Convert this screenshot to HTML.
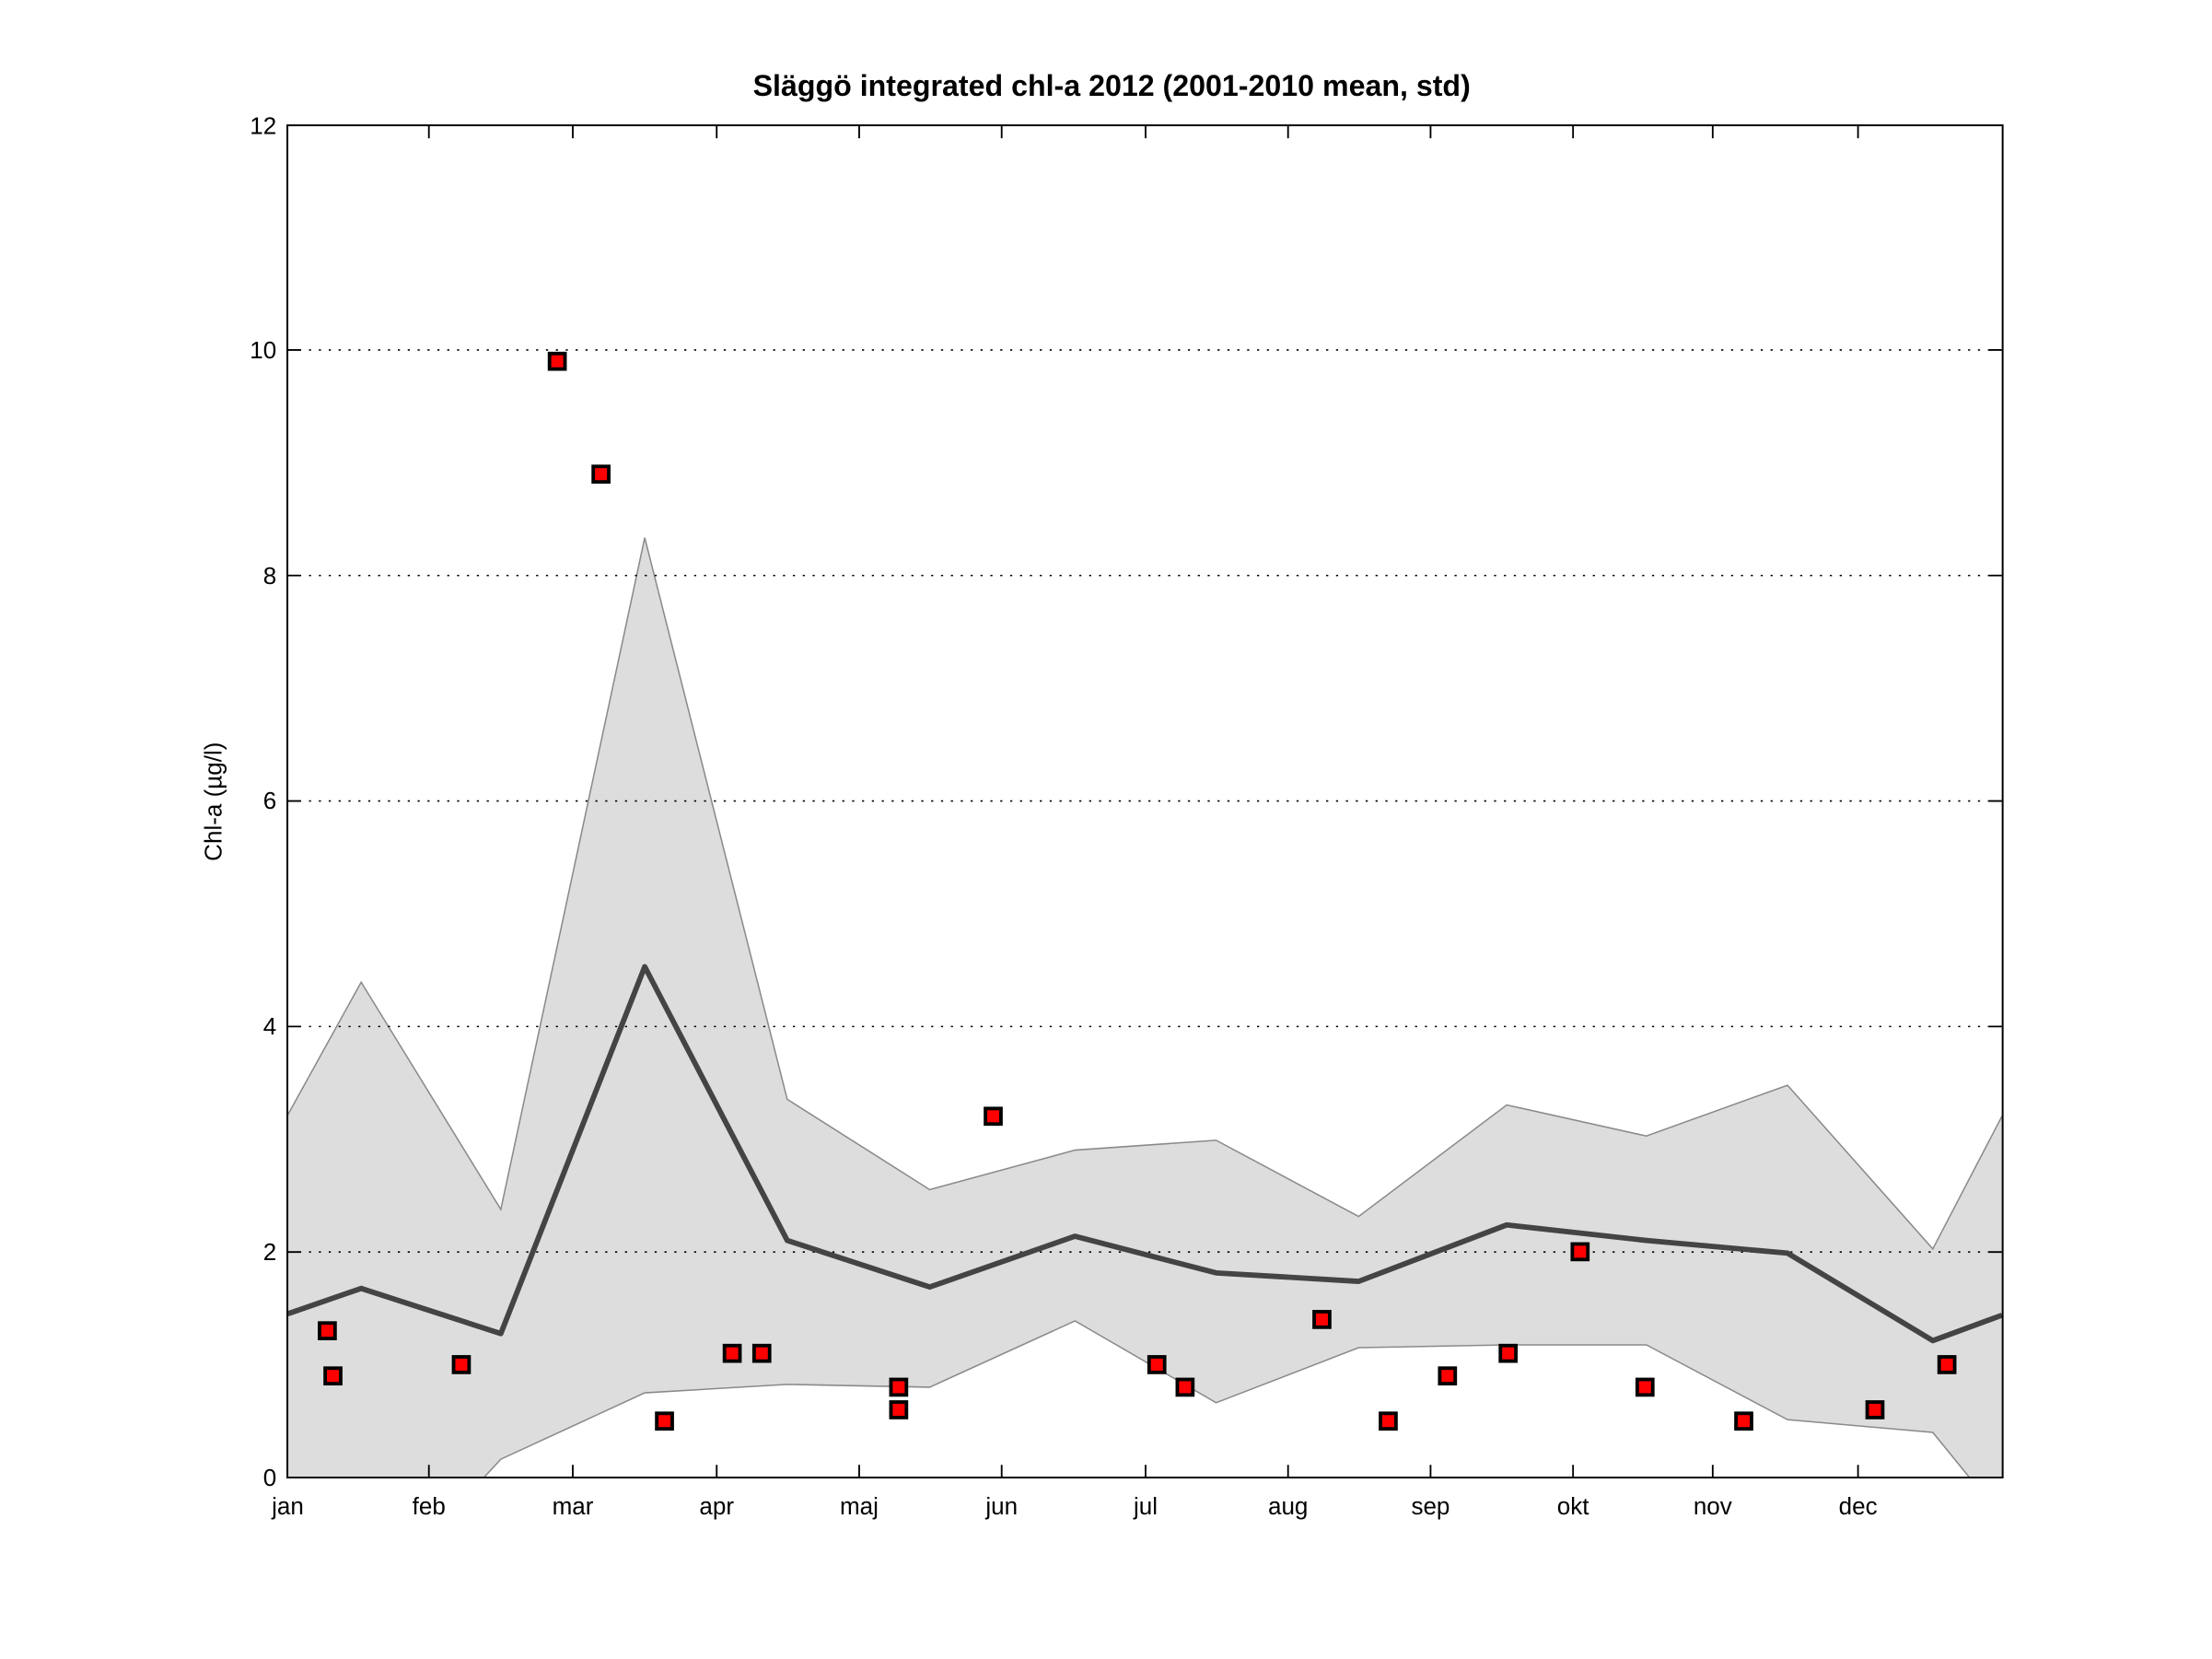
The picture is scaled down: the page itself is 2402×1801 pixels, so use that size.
<!DOCTYPE html>
<html><head><meta charset="utf-8"><style>
html,body{margin:0;padding:0;background:#fff;}
svg{display:block;}
text{font-family:"Liberation Sans",Arial,sans-serif;fill:#000;}
</style></head><body>
<svg width="2402" height="1801" viewBox="0 0 1567.9 1175.6" preserveAspectRatio="none" xmlns="http://www.w3.org/2000/svg">
<defs><clipPath id="c"><rect x="203.7" y="88.8" width="1216" height="958"/></clipPath></defs>
<rect width="1568" height="1176" fill="#fff"/>
<g clip-path="url(#c)">
<polygon fill="#dddddd" points="204,790 256,696 355,857 457,381 558,779 659,843 762,815 862,808 963,862 1068,783 1167,805 1267,769 1370,885 1419,791 1419,1060 1396,1047 1370,1015 1267,1006 1167,953 1068,953 963,955 862,994 762,936 659,983 558,981 457,987 355,1034 343,1047 330,1060 204,1060"/>
<polyline fill="none" stroke="#8a8a8a" stroke-width="1" points="204,790 256,696 355,857 457,381 558,779 659,843 762,815 862,808 963,862 1068,783 1167,805 1267,769 1370,885 1419,791"/>
<polyline fill="none" stroke="#8a8a8a" stroke-width="1" points="330,1060 343,1047 355,1034 457,987 558,981 659,983 762,936 862,994 963,955 1068,953 1167,953 1267,1006 1370,1015 1396,1047 1405,1060"/>
</g>
<g stroke="#000" stroke-width="1" stroke-dasharray="1.5,5.5">
<line x1="212" y1="887.2" x2="1411" y2="887.2"/>
<line x1="212" y1="727.4" x2="1411" y2="727.4"/>
<line x1="212" y1="567.6" x2="1411" y2="567.6"/>
<line x1="212" y1="407.8" x2="1411" y2="407.8"/>
<line x1="212" y1="248" x2="1411" y2="248"/>
</g>
<polyline fill="none" stroke="#444" stroke-width="3.8" stroke-linejoin="round" points="204,931 256,913 355,945 457,685 558,879 659,912 762,876 862,902 963,908 1068,868 1167,879 1267,888 1370,950 1419,932"/>
<g fill="#ff0000" stroke="#000" stroke-width="2.5" transform="translate(-0.5,-0.5)">
<rect x="227" y="938" width="11" height="11"/><rect x="231" y="970" width="11" height="11"/>
<rect x="322" y="962" width="11" height="11"/><rect x="390" y="251" width="11" height="11"/>
<rect x="421" y="331" width="11" height="11"/><rect x="466" y="1002" width="11" height="11"/>
<rect x="514" y="954" width="11" height="11"/><rect x="535" y="954" width="11" height="11"/>
<rect x="632" y="978" width="11" height="11"/><rect x="632" y="994" width="11" height="11"/>
<rect x="699" y="786" width="11" height="11"/><rect x="815" y="962" width="11" height="11"/>
<rect x="835" y="978" width="11" height="11"/><rect x="932" y="930" width="11" height="11"/>
<rect x="979" y="1002" width="11" height="11"/><rect x="1021" y="970" width="11" height="11"/>
<rect x="1064" y="954" width="11" height="11"/><rect x="1115" y="882" width="11" height="11"/>
<rect x="1161" y="978" width="11" height="11"/><rect x="1231" y="1002" width="11" height="11"/>
<rect x="1324" y="994" width="11" height="11"/><rect x="1375" y="962" width="11" height="11"/>
</g>
<rect x="203.7" y="88.8" width="1215.8" height="958.2" fill="none" stroke="#000" stroke-width="1.3"/>
<g stroke="#000" stroke-width="1.2">
<path d="M304,1047v-9M406,1047v-9M508,1047v-9M609,1047v-9M710,1047v-9M812,1047v-9M913,1047v-9M1014,1047v-9M1115,1047v-9M1214,1047v-9M1317,1047v-9"/>
<path d="M304,89v9M406,89v9M508,89v9M609,89v9M710,89v9M812,89v9M913,89v9M1014,89v9M1115,89v9M1214,89v9M1317,89v9"/>
<path d="M204,887.2h9M204,727.4h9M204,567.6h9M204,407.8h9M204,248h9M1419,887.2h-9M1419,727.4h-9M1419,567.6h-9M1419,407.8h-9M1419,248h-9"/>
</g>
<g font-size="17" text-anchor="end">
<text x="196" y="1053">0</text><text x="196" y="893">2</text><text x="196" y="733">4</text>
<text x="196" y="573">6</text><text x="196" y="414">8</text><text x="196" y="254">10</text><text x="196" y="95">12</text>
</g>
<g font-size="17" text-anchor="middle">
<text x="204" y="1073">jan</text><text x="304" y="1073">feb</text><text x="406" y="1073">mar</text>
<text x="508" y="1073">apr</text><text x="609" y="1073">maj</text><text x="710" y="1073">jun</text>
<text x="812" y="1073">jul</text><text x="913" y="1073">aug</text><text x="1014" y="1073">sep</text>
<text x="1115" y="1073">okt</text><text x="1214" y="1073">nov</text><text x="1317" y="1073">dec</text>
</g>
<text x="157" y="568" font-size="17" text-anchor="middle" transform="rotate(-90 157 568)">Chl-a (µg/l)</text>
<text x="788" y="68" font-size="21" font-weight="bold" text-anchor="middle">Släggö integrated chl-a 2012 (2001-2010 mean, std)</text>
</svg>
</body></html>
